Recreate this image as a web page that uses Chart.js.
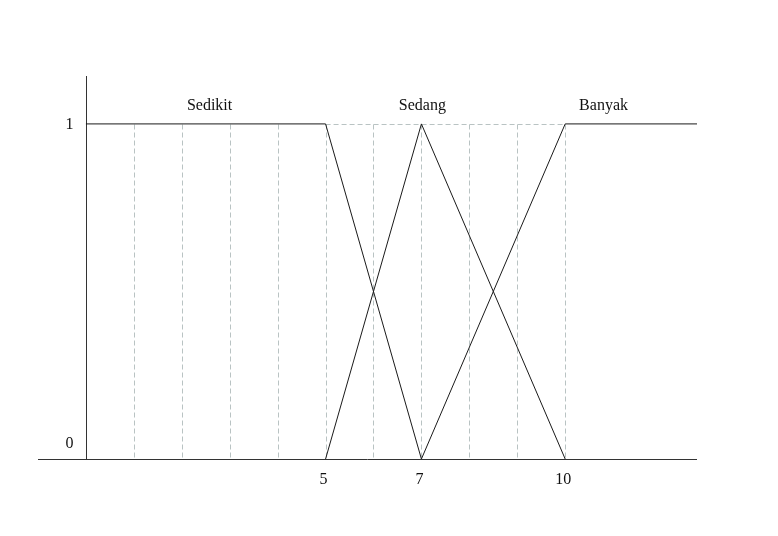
<!DOCTYPE html>
<html>
<head>
<meta charset="utf-8">
<script src="https://cdn.jsdelivr.net/npm/chart.js@4/dist/chart.umd.min.js"></script>
<style>
  html, body { margin: 0; padding: 0; background: #fff; }
  #wrap { width: 778px; height: 536px; }
</style>
</head>
<body>
<div id="wrap"><canvas id="c" width="778" height="536"></canvas></div>
<script>
// ---- data ----
const sedikitX = [0, 5, 7];
const sedikitY = [1, 1, 0];
const sedangX = [5, 7, 10];
const sedangY = [0, 1, 0];
const banyakX = [7, 10, 12.75];
const banyakY = [0, 1, 1];
const setNames = ['Sedikit', 'Sedang', 'Banyak'];
const setNameX = [2.58, 7.02, 10.8];
const xTickValues = [5, 7, 10];
const xTickLabels = ['5', '7', '10'];
const yTickValues = [0, 1];
const yTickLabels = ['0', '1'];
const gridXValues = [1, 2, 3, 4, 5, 6, 7, 8, 9, 10];
const gridTopFrom = 5, gridTopTo = 10;

const toPts = (xs, ys) => xs.map((x, i) => ({ x: x, y: ys[i] }));
const FONT = '16px "Liberation Serif", "Times New Roman", serif';
const LINE = '#1a1a1a';

const decor = {
  id: 'decor',
  beforeDatasetsDraw(chart) {
    const ctx = chart.ctx, xs = chart.scales.x, ys = chart.scales.y, a = chart.chartArea;
    ctx.save();
    // dashed guide lines
    ctx.strokeStyle = '#b9c3c3';
    ctx.lineWidth = 1;
    ctx.setLineDash([5, 3]);
    const y0 = Math.round(ys.getPixelForValue(0)) + 0.5;
    const y1 = Math.round(ys.getPixelForValue(1)) + 0.5;
    gridXValues.forEach(v => {
      const px = Math.round(xs.getPixelForValue(v)) + 0.5;
      ctx.beginPath(); ctx.moveTo(px, y1); ctx.lineTo(px, y0); ctx.stroke();
    });
    ctx.beginPath();
    ctx.moveTo(xs.getPixelForValue(gridTopFrom), y1);
    ctx.lineTo(xs.getPixelForValue(gridTopTo), y1);
    ctx.stroke();
    ctx.setLineDash([]);
    // axes
    ctx.strokeStyle = '#333';
    ctx.beginPath(); ctx.moveTo(a.left, y0); ctx.lineTo(a.right, y0); ctx.stroke();
    const ax = Math.round(xs.getPixelForValue(0)) + 0.5;
    ctx.beginPath(); ctx.moveTo(ax, a.top); ctx.lineTo(ax, y0); ctx.stroke();
    // tick labels
    ctx.fillStyle = '#111';
    ctx.font = FONT;
    ctx.textAlign = 'center';
    ctx.textBaseline = 'middle';
    xTickValues.forEach((v, i) => {
      ctx.fillText(xTickLabels[i], xs.getPixelForValue(v) - 2, a.bottom + 21);
    });
    yTickValues.forEach((v, i) => {
      const py = Math.min(ys.getPixelForValue(v), a.bottom - 16);
      ctx.fillText(yTickLabels[i], ax - 17, py + 1);
    });
    // set names
    setNames.forEach((n, i) => {
      ctx.fillText(n, xs.getPixelForValue(setNameX[i]), ys.getPixelForValue(1) - 18);
    });
    ctx.restore();
  }
};

const ds = (label, xs, ys) => ({
  label: label,
  data: toPts(xs, ys),
  showLine: true,
  borderColor: LINE,
  borderWidth: 1,
  pointRadius: 0,
  fill: false,
  tension: 0
});

new Chart(document.getElementById('c'), {
  type: 'scatter',
  data: {
    datasets: [
      ds('Sedikit', sedikitX, sedikitY),
      ds('Sedang', sedangX, sedangY),
      ds('Banyak', banyakX, banyakY)
    ]
  },
  options: {
    responsive: false,
    animation: false,
    layout: { padding: { left: 38, right: 81, top: 76, bottom: 77 } },
    plugins: { legend: { display: false }, tooltip: { enabled: false } },
    scales: {
      x: { type: 'linear', min: -1, max: 12.75, display: false },
      y: { type: 'linear', min: 0, max: 1.143, display: false }
    }
  },
  plugins: [decor]
});
</script>
</body>
</html>
